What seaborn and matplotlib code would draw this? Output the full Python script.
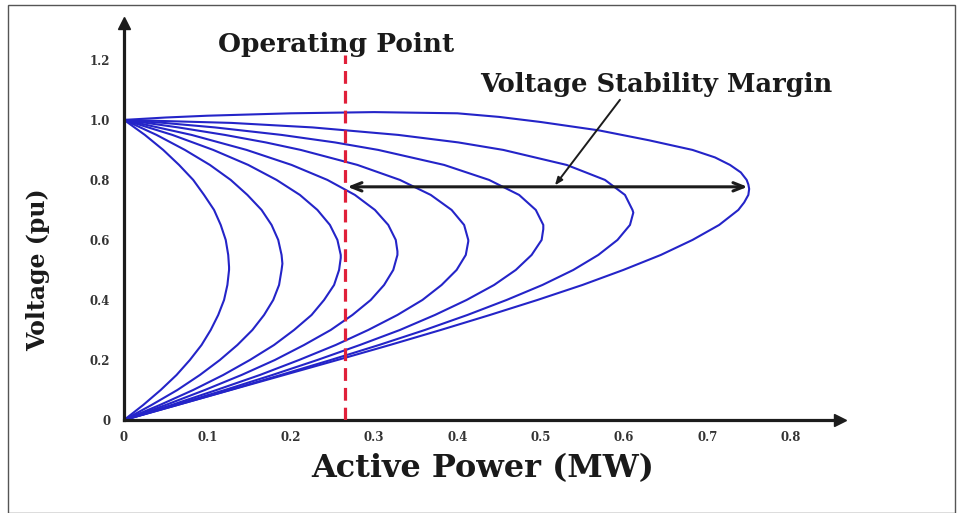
import numpy as np
import pandas as pd
import matplotlib
matplotlib.use('Agg')
import matplotlib.pyplot as plt
import seaborn as sns
from matplotlib.patches import Rectangle

# ---------------- data ----------------
V_LEVELS = [0.00, 0.05, 0.10, 0.15, 0.20, 0.25, 0.30, 0.35, 0.40, 0.45, 0.50,
            0.55, 0.60, 0.65, 0.70, 0.75, 0.80, 0.85, 0.90, 0.95, 1.00]

# active power (MW) of each PV curve at the voltage levels above
P_CURVE_1 = [0.000, 0.064, 0.127, 0.188, 0.248, 0.306, 0.361, 0.412, 0.459, 0.502, 0.539,
             0.569, 0.592, 0.607, 0.610, 0.601, 0.577, 0.531, 0.455, 0.329, 0.000]
P_CURVE_2 = [0.000, 0.061, 0.121, 0.178, 0.232, 0.283, 0.331, 0.373, 0.411, 0.444, 0.470,
             0.489, 0.501, 0.503, 0.494, 0.474, 0.438, 0.384, 0.305, 0.189, 0.000]
P_CURVE_3 = [0.000, 0.057, 0.111, 0.163, 0.210, 0.254, 0.293, 0.328, 0.358, 0.381, 0.399,
             0.410, 0.413, 0.408, 0.393, 0.368, 0.331, 0.280, 0.212, 0.121, 0.000]
P_CURVE_4 = [0.000, 0.050, 0.097, 0.141, 0.181, 0.216, 0.248, 0.274, 0.296, 0.312, 0.323,
             0.328, 0.326, 0.317, 0.301, 0.277, 0.244, 0.201, 0.147, 0.081, 0.000]
P_CURVE_5 = [0.000, 0.043, 0.083, 0.119, 0.151, 0.180, 0.204, 0.225, 0.240, 0.252, 0.258,
             0.260, 0.256, 0.247, 0.232, 0.211, 0.183, 0.149, 0.107, 0.058, 0.000]
P_CURVE_6 = [0.000, 0.033, 0.064, 0.091, 0.115, 0.136, 0.154, 0.168, 0.179, 0.186, 0.189,
             0.189, 0.185, 0.177, 0.165, 0.148, 0.128, 0.103, 0.073, 0.039, 0.000]
P_CURVE_7 = [0.000, 0.023, 0.044, 0.063, 0.079, 0.093, 0.104, 0.113, 0.120, 0.124, 0.126,
             0.125, 0.122, 0.116, 0.108, 0.096, 0.083, 0.066, 0.047, 0.025, 0.000]

# extra readings near the top of the three flatter curves
EXTRA_V = [0.925, 0.975, 0.990]
EXTRA_P_CURVE_1 = [0.401, 0.226, 0.129]
EXTRA_P_CURVE_2 = [0.253, 0.109, 0.048]
EXTRA_P_CURVE_3 = [0.170, 0.065, 0.027]

# nose (maximum loadability) points of curves 1..7
NOSE_P = [0.611, 0.503, 0.413, 0.328, 0.260, 0.190, 0.126]
NOSE_V = [0.691, 0.636, 0.595, 0.562, 0.540, 0.521, 0.510]

# outermost curve (rises above 1.0 pu), traced origin -> nose -> (0, 1.0)
OUTER_P = [0.000, 0.064, 0.128, 0.192, 0.256, 0.319, 0.380, 0.439, 0.496, 0.550, 0.599,
           0.644, 0.682, 0.714, 0.737, 0.744, 0.749, 0.750, 0.749, 0.747, 0.740, 0.727,
           0.709, 0.682, 0.630, 0.570, 0.500, 0.450, 0.400, 0.300, 0.200, 0.100, 0.050,
           0.000]
OUTER_V = [0.000, 0.050, 0.100, 0.150, 0.200, 0.250, 0.300, 0.350, 0.400, 0.450, 0.500,
           0.550, 0.600, 0.650, 0.700, 0.725, 0.750, 0.770, 0.785, 0.800, 0.825, 0.850,
           0.875, 0.900, 0.932, 0.965, 0.993, 1.010, 1.022, 1.026, 1.022, 1.014, 1.008,
           1.000]

X_TICKS = [0, 0.1, 0.2, 0.3, 0.4, 0.5, 0.6, 0.7, 0.8]
X_TICK_LABELS = ['0', '0.1', '0.2', '0.3', '0.4', '0.5', '0.6', '0.7', '0.8']
Y_TICKS = [0, 0.2, 0.4, 0.6, 0.8, 1.0, 1.2]
Y_TICK_LABELS = ['0', '0.2', '0.4', '0.6', '0.8', '1.0', '1.2']

OPERATING_P = 0.265
MARGIN_V = 0.777
MARGIN_END_P = 0.748

# ---------------- assemble long table ----------------
rows = []
inner = [P_CURVE_1, P_CURVE_2, P_CURVE_3, P_CURVE_4, P_CURVE_5, P_CURVE_6, P_CURVE_7]
extras = {0: EXTRA_P_CURVE_1, 1: EXTRA_P_CURVE_2, 2: EXTRA_P_CURVE_3}
for k, (pp, n_p, n_v) in enumerate(zip(inner, NOSE_P, NOSE_V)):
    pts = list(zip(pp, V_LEVELS)) + [(n_p, n_v)]
    if k in extras:
        pts += list(zip(extras[k], EXTRA_V))
    pts.sort(key=lambda a: a[1])
    for i, (p, v) in enumerate(pts):
        rows.append(dict(curve=k + 1, order=i, P=p, V=v))
for i, (p, v) in enumerate(zip(OUTER_P, OUTER_V)):
    rows.append(dict(curve=0, order=i, P=p, V=v))
df = pd.DataFrame(rows)

# ---------------- figure ----------------
sns.set_style('white')
plt.rcParams['font.family'] = ['DejaVu Serif', 'DejaVu Sans']

BLUE = '#2424c8'
AXC = '#1c1c1c'
SERIF = 'DejaVu Serif'

fig = plt.figure(figsize=(9.63, 5.13), dpi=100)
ax = fig.add_axes([0.1288, 0.1813, 0.7435, 0.7739])

sns.lineplot(data=df, x='P', y='V', units='curve', estimator=None, sort=False,
             color=BLUE, lw=1.5, legend=False, ax=ax)
for ln in ax.lines:
    ln.set_solid_joinstyle('round')

ax.set_xlim(0, 0.859)
ax.set_ylim(0, 1.323)

# operating point line
ax.vlines(OPERATING_P, 0, 1.217, colors='#e0203a', linestyles=(0, (4, 2.2)), lw=2.3, zorder=4)

# margin double arrow
ax.annotate('', xy=(MARGIN_END_P, MARGIN_V), xytext=(OPERATING_P + 0.003, MARGIN_V),
            arrowprops=dict(arrowstyle='<->,head_length=0.75,head_width=0.3', lw=2.2,
                            color=AXC, shrinkA=0, shrinkB=0), zorder=5)
# pointer arrow
ax.annotate('', xy=(0.517, MARGIN_V + 0.005), xytext=(0.595, 1.067),
            arrowprops=dict(arrowstyle='-|>,head_length=0.45,head_width=0.18', lw=1.4,
                            color=AXC, shrinkA=0, shrinkB=0), zorder=5)

ax.text(0.254, 1.25, 'Operating Point', ha='center', va='center', fontsize=19,
        fontweight='bold', family=SERIF, color='#1a1a1a')
ax.text(0.638, 1.117, 'Voltage Stability Margin', ha='center', va='center', fontsize=18.5,
        fontweight='bold', family=SERIF, color='#1a1a1a')

# axes styling
for s in ['top', 'right']:
    ax.spines[s].set_visible(False)
for s in ['left', 'bottom']:
    ax.spines[s].set_linewidth(2.3)
    ax.spines[s].set_color(AXC)
ax.plot(1, 0, '>', color=AXC, ms=8, transform=ax.get_yaxis_transform(), clip_on=False)
ax.plot(0, 1, '^', color=AXC, ms=8, transform=ax.get_xaxis_transform(), clip_on=False)

ax.set_xticks(X_TICKS)
ax.set_xticklabels(X_TICK_LABELS)
ax.set_yticks(Y_TICKS)
ax.set_yticklabels(Y_TICK_LABELS)
ax.tick_params(axis='x', direction='inout', length=10, width=1.4, color=AXC, pad=3,
               labelsize=8.5, labelcolor='#333333')
ax.tick_params(axis='y', direction='out', length=7, width=1.4, color=AXC, pad=3,
               labelsize=8.5, labelcolor='#333333')
for lab in ax.get_xticklabels() + ax.get_yticklabels():
    lab.set_fontweight('bold')
    lab.set_family(SERIF)

ax.set_xlabel('Active Power (MW)', fontsize=23, fontweight='bold', family=SERIF,
              color='#1a1a1a')
ax.xaxis.set_label_coords(0.501, -0.082)
ax.set_ylabel('Voltage (pu)', fontsize=17, fontweight='bold', family=SERIF,
              color='#1a1a1a')
ax.yaxis.set_label_coords(-0.103, 0.378)

# frame around the figure
fig.patches.append(Rectangle((8 / 963, 0.0), (955 - 8) / 963, 1 - 5 / 513,
                             transform=fig.transFigure, fill=False, ec='#555555', lw=1.0))

fig.savefig('out.png', dpi=100)
